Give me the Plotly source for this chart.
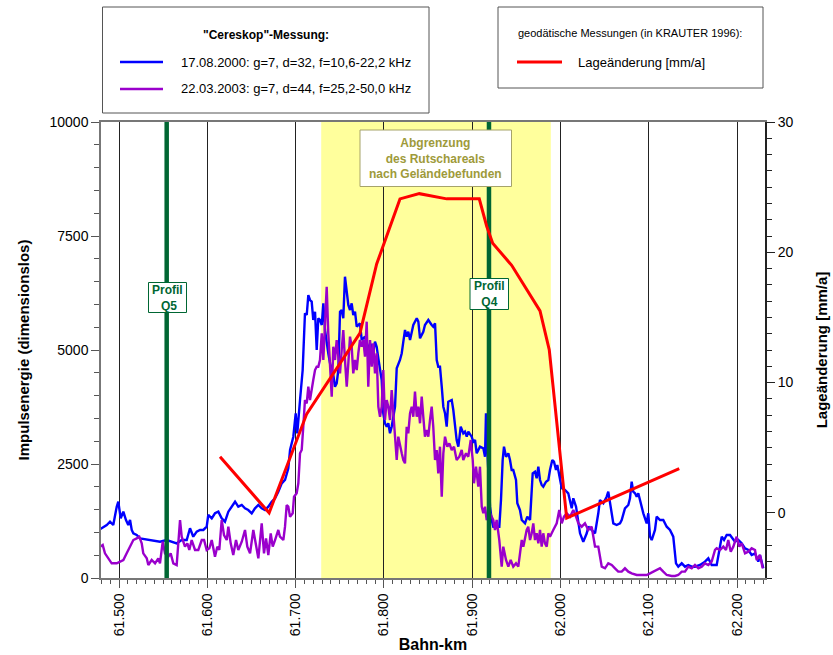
import plotly.graph_objects as go

# ---------------- data ----------------
blue_km = [61.4785, 61.4861, 61.4898, 61.4935, 61.4974, 61.4992, 61.5019, 61.5049, 61.5079, 61.5105,
           61.5125, 61.5144, 61.5162, 61.5200, 61.5238, 61.5314, 61.5388, 61.5464, 61.5540, 61.5597,
           61.5653, 61.5710, 61.5767, 61.5804, 61.5841, 61.5880, 61.5917, 61.5955, 61.5993, 61.6011,
           61.6050, 61.6087, 61.6125, 61.6163, 61.6200, 61.6238, 61.6276, 61.6314, 61.6351, 61.6390,
           61.6427, 61.6464, 61.6503, 61.6540, 61.6578, 61.6616, 61.6653, 61.6691, 61.6729, 61.6767,
           61.6804, 61.6843, 61.6880, 61.6917, 61.6937, 61.6974, 61.7001, 61.7019, 61.7050, 61.7080,
           61.7106, 61.7126, 61.7144, 61.7163, 61.7182, 61.7200, 61.7220, 61.7239, 61.7257, 61.7276,
           61.7296, 61.7314, 61.7333, 61.7352, 61.7370, 61.7390, 61.7409, 61.7427, 61.7446, 61.7465,
           61.7484, 61.7503, 61.7522, 61.7540, 61.7559, 61.7579, 61.7597, 61.7616, 61.7635, 61.7653,
           61.7673, 61.7692, 61.7729, 61.7749, 61.7786, 61.7823, 61.7843, 61.7862, 61.7880, 61.7899,
           61.7918, 61.7937, 61.7956, 61.7975, 61.7993, 61.8012, 61.8032, 61.8050, 61.8069, 61.8088,
           61.8126, 61.8145, 61.8182, 61.8202, 61.8220, 61.8239, 61.8258, 61.8276, 61.8296, 61.8333,
           61.8372, 61.8390, 61.8409, 61.8446, 61.8465, 61.8503, 61.8541, 61.8559, 61.8579, 61.8598,
           61.8616, 61.8635, 61.8655, 61.8673, 61.8692, 61.8711, 61.8729, 61.8768, 61.8786, 61.8824,
           61.8843, 61.8870, 61.8899, 61.8918, 61.8938, 61.8956, 61.8994, 61.9012, 61.9032, 61.9051,
           61.9088, 61.9126, 61.9145, 61.9156, 61.9171, 61.9202, 61.9221, 61.9239, 61.9277, 61.9307,
           61.9326, 61.9345, 61.9360, 61.9383, 61.9409, 61.9428, 61.9447, 61.9465, 61.9496, 61.9511,
           61.9541, 61.9561, 61.9598, 61.9624, 61.9655, 61.9685, 61.9711, 61.9730, 61.9749, 61.9768,
           61.9787, 61.9805, 61.9836, 61.9862, 61.9881, 61.9907, 61.9926, 61.9949, 61.9964, 61.9986,
           62.0014, 62.0051, 62.0088, 62.0127, 62.0145, 62.0176, 62.0202, 62.0221, 62.0258, 62.0297,
           62.0315, 62.0353, 62.0391, 62.0428, 62.0447, 62.0485, 62.0523, 62.0541, 62.0561, 62.0598,
           62.0636, 62.0674, 62.0693, 62.0730, 62.0768, 62.0787, 62.0806, 62.0824, 62.0844, 62.0863,
           62.0881, 62.0900, 62.0938, 62.0976, 62.0994, 62.1014, 62.1033, 62.1070, 62.1089, 62.1127,
           62.1164, 62.1203, 62.1240, 62.1277, 62.1308, 62.1334, 62.1373, 62.1410, 62.1447, 62.1486,
           62.1523, 62.1580, 62.1636, 62.1674, 62.1712, 62.1769, 62.1798, 62.1826, 62.1852, 62.1882,
           62.1920, 62.1950, 62.1976, 62.2014, 62.2052, 62.2090, 62.2127, 62.2165, 62.2203, 62.2240,
           62.2259, 62.2297]
blue_val = [1068, 1162, 1235, 1162, 1564, 1673, 1309, 1454, 1272, 1162,
            1272, 1053, 980, 943, 870, 849, 833, 796, 833, 796,
            760, 833, 833, 1090, 906, 1016, 1053, 1053, 1125, 1382,
            1309, 1419, 1454, 1309, 1235, 1454, 1564, 1673, 1564, 1601,
            1528, 1491, 1419, 1528, 1601, 1528, 1491, 1564, 1673, 1748,
            1893, 2077, 2150, 2400, 2807, 3099, 3612, 3173, 3903, 4561,
            5805, 5768, 6206, 6097, 6060, 5658, 5840, 5000, 5695, 5658,
            5548, 6024, 5438, 5147, 4928, 4708, 4561, 4452, 4195, 4269,
            4561, 5840, 5877, 5695, 6607, 6243, 5987, 5877, 6024, 5768,
            5840, 5511, 5585, 5219, 5292, 5000, 5147, 5073, 4963, 5182,
            5073, 4818, 4561, 4342, 3612, 3393, 3318, 3393, 3173, 3318,
            3757, 4598, 4781, 4928, 5182, 5438, 5292, 5401, 5219, 5548,
            5695, 5621, 5256, 5401, 5548, 5658, 5548, 5511, 5585, 4781,
            4634, 4634, 4195, 3757, 3612, 3318, 3866, 3903, 3684, 3026,
            2880, 3318, 3173, 3209, 3099, 3209, 3099, 2989, 3026, 2734,
            2880, 2844, 2660, 3612, 2807, 1564, 1272, 1125, 1125, 1125,
            1711, 2588, 2880, 2660, 2734, 2588, 2368, 2368, 2149, 1638,
            1491, 1272, 1199, 1345, 1272, 2296, 2331, 2186, 2441, 2149,
            2040, 2003, 2112, 2149, 2368, 2588, 2551, 2368, 2478, 2222,
            1967, 1930, 1857, 1528, 1748, 1564, 1272, 980, 796, 980,
            1125, 1053, 980, 1419, 1711, 1638, 1783, 1893, 1638, 1199,
            1162, 1199, 1272, 1528, 1601, 1748, 2112, 1893, 1857, 1783,
            1857, 1711, 1419, 1199, 1419, 906, 833, 1053, 1345, 1272,
            1272, 1125, 1053, 906, 322, 248, 322, 248, 285, 248,
            248, 285, 358, 432, 285, 285, 614, 906, 833, 943,
            943, 870, 796, 833, 760, 651, 614, 504, 541, 358,
            504, 213]

purple_km = [61.4785, 61.4815, 61.4841, 61.4879, 61.4917, 61.4974, 61.5011, 61.5049, 61.5087, 61.5125,
             61.5162, 61.5200, 61.5230, 61.5257, 61.5275, 61.5314, 61.5332, 61.5370, 61.5408, 61.5445,
             61.5464, 61.5495, 61.5521, 61.5558, 61.5585, 61.5615, 61.5653, 61.5691, 61.5710, 61.5747,
             61.5774, 61.5796, 61.5823, 61.5861, 61.5898, 61.5937, 61.5963, 61.5993, 61.6023, 61.6050,
             61.6087, 61.6113, 61.6136, 61.6163, 61.6189, 61.6220, 61.6238, 61.6265, 61.6294, 61.6325,
             61.6351, 61.6390, 61.6427, 61.6453, 61.6484, 61.6521, 61.6552, 61.6578, 61.6616, 61.6642,
             61.6665, 61.6691, 61.6718, 61.6741, 61.6767, 61.6804, 61.6823, 61.6861, 61.6880, 61.6899,
             61.6917, 61.6937, 61.6967, 61.6982, 61.7012, 61.7031, 61.7050, 61.7069, 61.7087, 61.7106,
             61.7126, 61.7144, 61.7163, 61.7182, 61.7200, 61.7220, 61.7239, 61.7257, 61.7276, 61.7296,
             61.7314, 61.7333, 61.7352, 61.7370, 61.7390, 61.7409, 61.7427, 61.7446, 61.7465, 61.7484,
             61.7503, 61.7522, 61.7540, 61.7559, 61.7579, 61.7597, 61.7616, 61.7635, 61.7653, 61.7673,
             61.7692, 61.7710, 61.7729, 61.7749, 61.7767, 61.7786, 61.7805, 61.7823, 61.7843, 61.7862,
             61.7880, 61.7899, 61.7918, 61.7937, 61.7956, 61.7975, 61.7993, 61.8012, 61.8032, 61.8050,
             61.8069, 61.8088, 61.8106, 61.8126, 61.8145, 61.8163, 61.8182, 61.8202, 61.8220, 61.8239,
             61.8258, 61.8276, 61.8296, 61.8315, 61.8333, 61.8352, 61.8372, 61.8390, 61.8409, 61.8428,
             61.8446, 61.8465, 61.8485, 61.8503, 61.8522, 61.8541, 61.8559, 61.8579, 61.8598, 61.8616,
             61.8635, 61.8655, 61.8673, 61.8692, 61.8718, 61.8741, 61.8768, 61.8794, 61.8824, 61.8854,
             61.8881, 61.8899, 61.8930, 61.8956, 61.8983, 61.9006, 61.9020, 61.9043, 61.9069, 61.9088,
             61.9108, 61.9126, 61.9145, 61.9164, 61.9202, 61.9239, 61.9258, 61.9277, 61.9307, 61.9334,
             61.9352, 61.9383, 61.9409, 61.9436, 61.9465, 61.9496, 61.9522, 61.9541, 61.9561, 61.9579,
             61.9598, 61.9617, 61.9635, 61.9655, 61.9674, 61.9692, 61.9711, 61.9730, 61.9749, 61.9768,
             61.9787, 61.9805, 61.9824, 61.9844, 61.9862, 61.9881, 61.9918, 61.9957, 61.9986, 62.0014,
             62.0040, 62.0070, 62.0108, 62.0145, 62.0176, 62.0202, 62.0240, 62.0277, 62.0315, 62.0353,
             62.0391, 62.0428, 62.0467, 62.0504, 62.0541, 62.0580, 62.0617, 62.0654, 62.0693, 62.0730,
             62.0768, 62.0806, 62.0863, 62.0920, 62.0976, 62.1014, 62.1051, 62.1089, 62.1127, 62.1164,
             62.1203, 62.1259, 62.1297, 62.1334, 62.1373, 62.1410, 62.1447, 62.1486, 62.1523, 62.1561,
             62.1599, 62.1636, 62.1674, 62.1712, 62.1750, 62.1769, 62.1806, 62.1844, 62.1874, 62.1900,
             62.1928, 62.1957, 62.1995, 62.2025, 62.2052, 62.2090, 62.2127, 62.2165, 62.2203, 62.2222,
             62.2259, 62.2290]
purple_val = [687, 724, 541, 432, 322, 322, 358, 395, 541, 687,
              833, 870, 906, 760, 541, 432, 285, 395, 322, 432,
              322, 796, 541, 467, 541, 322, 285, 1272, 906, 687,
              760, 614, 833, 614, 614, 833, 833, 614, 651, 833,
              467, 687, 614, 1272, 943, 833, 1125, 760, 504, 833,
              614, 796, 1053, 687, 541, 1053, 687, 432, 1199, 541,
              870, 504, 980, 687, 833, 1053, 906, 833, 1125, 1601,
              1564, 1345, 1419, 1783, 1857, 2077, 2734, 2807, 3318, 3903,
              3831, 4195, 3903, 4195, 4342, 4561, 4634, 4634, 4781, 5366,
              4781, 5585, 6388, 5366, 4634, 3976, 5073, 4781, 5219, 4853,
              4488, 5000, 5438, 4781, 4195, 4708, 5292, 5073, 4488, 4781,
              4561, 4928, 5219, 5073, 5219, 4853, 5621, 4195, 5219, 4634,
              5147, 4488, 4928, 3757, 3537, 3757, 4561, 3465, 3903, 3757,
              3465, 4123, 3612, 3026, 2588, 3099, 2880, 2734, 2588, 2515,
              3318, 3173, 3612, 3757, 3537, 4086, 3537, 3757, 3393, 3976,
              3537, 3099, 3246, 3099, 3465, 3757, 3318, 2588, 2807, 2296,
              2880, 1783, 2734, 3099, 2880, 2954, 2807, 2880, 2588, 2660,
              2807, 2588, 2734, 2660, 3026, 2588, 2077, 2441, 2003, 2441,
              1564, 1419, 1564, 1272, 1419, 1272, 1053, 1272, 833, 248,
              687, 395, 248, 395, 248, 322, 248, 541, 833, 687,
              906, 1053, 1125, 833, 980, 1199, 833, 980, 760, 1053,
              687, 980, 760, 687, 980, 906, 1053, 1199, 1491, 1199,
              1345, 1419, 1345, 1491, 1345, 1199, 1125, 1199, 1053, 1125,
              687, 687, 248, 213, 322, 285, 213, 139, 139, 213,
              139, 102, 66, 66, 66, 102, 139, 175, 213, 139,
              66, 44, 44, 66, 139, 139, 248, 213, 285, 213,
              248, 322, 285, 358, 614, 651, 614, 687, 614, 833,
              577, 687, 906, 687, 760, 541, 577, 651, 614, 395,
              504, 213]

red_km = [61.6144, 61.6700, 61.7126, 61.7729, 61.7918, 61.8182, 61.8401, 61.8711, 61.9080,
          61.9164, 61.9232, 61.9447, 61.9768, 61.9873, 62.0070, 62.1345]
red_val = [4.3, 0.0, 7.6, 13.8, 19.1, 24.1, 24.5, 24.1, 24.1,
           22.0, 20.7, 19.0, 15.5, 12.5, -0.4, 3.4]

profile_km = [61.554, 61.919]
profile_names = ["Profil<br> Q5", "Profil<br>Q4"]
slide_area_km = [61.729, 61.989]

x_range = [61.4796, 62.2316]
y_left_range = [0, 10000]
y_right_range = [-5, 30]

series_names = ["17.08.2000: g=7, d=32, f=10,6-22,2 kHz", "22.03.2003: g=7, d=44, f=25,2-50,0 kHz"]

# ---------------- styles ----------------
FONT = "Arial, 'Liberation Sans', sans-serif"
BLUE = "#0000FF"
PURPLE = "#9A00CC"
RED = "#FF0000"
GREEN = "#006633"
YELLOW = "#FFFF9C"
OLIVE = "#9E9A3A"

fig = go.Figure()

fig.add_trace(go.Scatter(x=blue_km, y=blue_val, mode="lines", line=dict(color=BLUE, width=2.4),
                         name=series_names[0], showlegend=False))
fig.add_trace(go.Scatter(x=purple_km, y=purple_val, mode="lines", line=dict(color=PURPLE, width=2.4),
                         name=series_names[1], showlegend=False))
for pk in profile_km:
    fig.add_trace(go.Scatter(x=[pk, pk], y=y_left_range, mode="lines",
                             line=dict(color=GREEN, width=4.5), showlegend=False, hoverinfo="skip"))
fig.add_trace(go.Scatter(x=red_km, y=red_val, mode="lines", line=dict(color=RED, width=3),
                         yaxis="y2", name="Lageänderung [mm/a]", showlegend=False))

shapes = []
# slide area band (below gridlines)
shapes.append(dict(type="rect", xref="x", yref="paper", x0=slide_area_km[0], x1=slide_area_km[1],
                   y0=0, y1=1, fillcolor=YELLOW, line=dict(width=0), layer="below"))


def px2x(px):
    return (px - 101) / 664


def py2y(py):
    return (578 - py) / 456


# legend box 1
shapes.append(dict(type="rect", xref="paper", yref="paper", x0=px2x(102.5), x1=px2x(429),
                   y0=py2y(113), y1=py2y(7), line=dict(color="#555555", width=1), fillcolor="white",
                   layer="above"))
shapes.append(dict(type="line", xref="paper", yref="paper", x0=px2x(120), x1=px2x(163),
                   y0=py2y(62), y1=py2y(62), line=dict(color=BLUE, width=2.5)))
shapes.append(dict(type="line", xref="paper", yref="paper", x0=px2x(120), x1=px2x(163),
                   y0=py2y(89), y1=py2y(89), line=dict(color=PURPLE, width=2.5)))
# legend box 2
shapes.append(dict(type="rect", xref="paper", yref="paper", x0=px2x(498), x1=px2x(763),
                   y0=py2y(88), y1=py2y(7), line=dict(color="#555555", width=1), fillcolor="white",
                   layer="above"))
shapes.append(dict(type="line", xref="paper", yref="paper", x0=px2x(517), x1=px2x(562),
                   y0=py2y(62), y1=py2y(62), line=dict(color=RED, width=3)))
# Abgrenzung box
shapes.append(dict(type="rect", xref="paper", yref="paper", x0=px2x(360), x1=px2x(511.5),
                   y0=py2y(186.5), y1=py2y(130), line=dict(color="#A6A36A", width=1), fillcolor="white",
                   layer="above"))
# Profil boxes
shapes.append(dict(type="rect", xref="paper", yref="paper", x0=px2x(148.5), x1=px2x(186.5),
                   y0=py2y(312.5), y1=py2y(282.5), line=dict(color=GREEN, width=1), fillcolor="white",
                   layer="above"))
shapes.append(dict(type="rect", xref="paper", yref="paper", x0=px2x(470), x1=px2x(508.5),
                   y0=py2y(309.5), y1=py2y(278.5), line=dict(color=GREEN, width=1), fillcolor="white",
                   layer="above"))

annotations = [
    dict(xref="paper", yref="paper", x=px2x(266), y=py2y(35), text="<b>\"Cereskop\"-Messung:</b>",
         showarrow=False, font=dict(size=12, color="black", family=FONT), xanchor="center", yanchor="middle"),
    dict(xref="paper", yref="paper", x=px2x(179), y=py2y(62), text=series_names[0],
         showarrow=False, font=dict(size=13, color="black", family=FONT), xanchor="left", yanchor="middle"),
    dict(xref="paper", yref="paper", x=px2x(179), y=py2y(89), text=series_names[1],
         showarrow=False, font=dict(size=13, color="black", family=FONT), xanchor="left", yanchor="middle"),
    dict(xref="paper", yref="paper", x=px2x(630), y=py2y(33), text="geodätische Messungen (in KRAUTER 1996):",
         showarrow=False, font=dict(size=11, color="black", family=FONT), xanchor="center", yanchor="middle"),
    dict(xref="paper", yref="paper", x=px2x(576), y=py2y(62), text="Lageänderung [mm/a]",
         showarrow=False, font=dict(size=13, color="black", family=FONT), xanchor="left", yanchor="middle"),
    dict(xref="paper", yref="paper", x=px2x(436), y=py2y(158),
         text="<b>Abgrenzung<br>des Rutschareals<br>nach Geländebefunden</b>",
         showarrow=False, font=dict(size=12, color=OLIVE, family=FONT), xanchor="center", yanchor="middle"),
    dict(xref="paper", yref="paper", x=px2x(167.5), y=py2y(297.5), text="<b>" + profile_names[0] + "</b>",
         showarrow=False, font=dict(size=12, color=GREEN, family=FONT), xanchor="center", yanchor="middle"),
    dict(xref="paper", yref="paper", x=px2x(489.3), y=py2y(294), text="<b>" + profile_names[1] + "</b>",
         showarrow=False, font=dict(size=12, color=GREEN, family=FONT), xanchor="center", yanchor="middle"),
]

fig.update_layout(
    width=833, height=655,
    margin=dict(l=101, r=68, t=122, b=77, autoexpand=False),
    paper_bgcolor="white", plot_bgcolor="rgba(0,0,0,0)",
    font=dict(family=FONT, size=14, color="black"),
    showlegend=False,
    shapes=shapes,
    annotations=annotations,
    xaxis=dict(
        range=x_range, tick0=61.5, dtick=0.1, tickformat=".3f", tickangle=-90,
        showgrid=True, gridcolor="#222222", gridwidth=1,
        ticks="outside", ticklen=8, tickcolor="#555555",
        minor=dict(dtick=0.01, tick0=61.5, ticks="outside", ticklen=4, tickcolor="#555555", showgrid=False),
        showline=True, linecolor="#777777", linewidth=1.5, mirror=True,
        zeroline=False, tickfont=dict(size=14), automargin=False,
        title=dict(text="<b>Bahn-km</b>", font=dict(size=16), standoff=4),
    ),
    yaxis=dict(
        range=y_left_range, tickvals=[0, 2500, 5000, 7500, 10000], tickformat="d",
        showgrid=False, zeroline=False,
        ticks="outside", ticklen=8, tickcolor="#555555",
        minor=dict(dtick=500, tick0=0, ticks="outside", ticklen=5, tickcolor="#555555"),
        showline=True, linecolor="#777777", linewidth=1.5,
        tickfont=dict(size=14), automargin=False,
        title=dict(text="<b>Impulsenergie (dimensionslos)</b>", font=dict(size=15), standoff=16),
    ),
    yaxis2=dict(
        range=y_right_range, tickvals=[0, 10, 20, 30], overlaying="y", side="right",
        showgrid=False, zeroline=False,
        ticks="outside", ticklen=8, tickcolor="#222222",
        minor=dict(dtick=1.25, tick0=0, ticks="outside", ticklen=5, tickcolor="#222222"),
        showline=True, linecolor="#222222", linewidth=2,
        tickfont=dict(size=14), automargin=False,
        title=dict(text="<b>Lageänderung [mm/a]</b>", font=dict(size=15), standoff=24),
    ),
)

fig.write_html("out.html")
